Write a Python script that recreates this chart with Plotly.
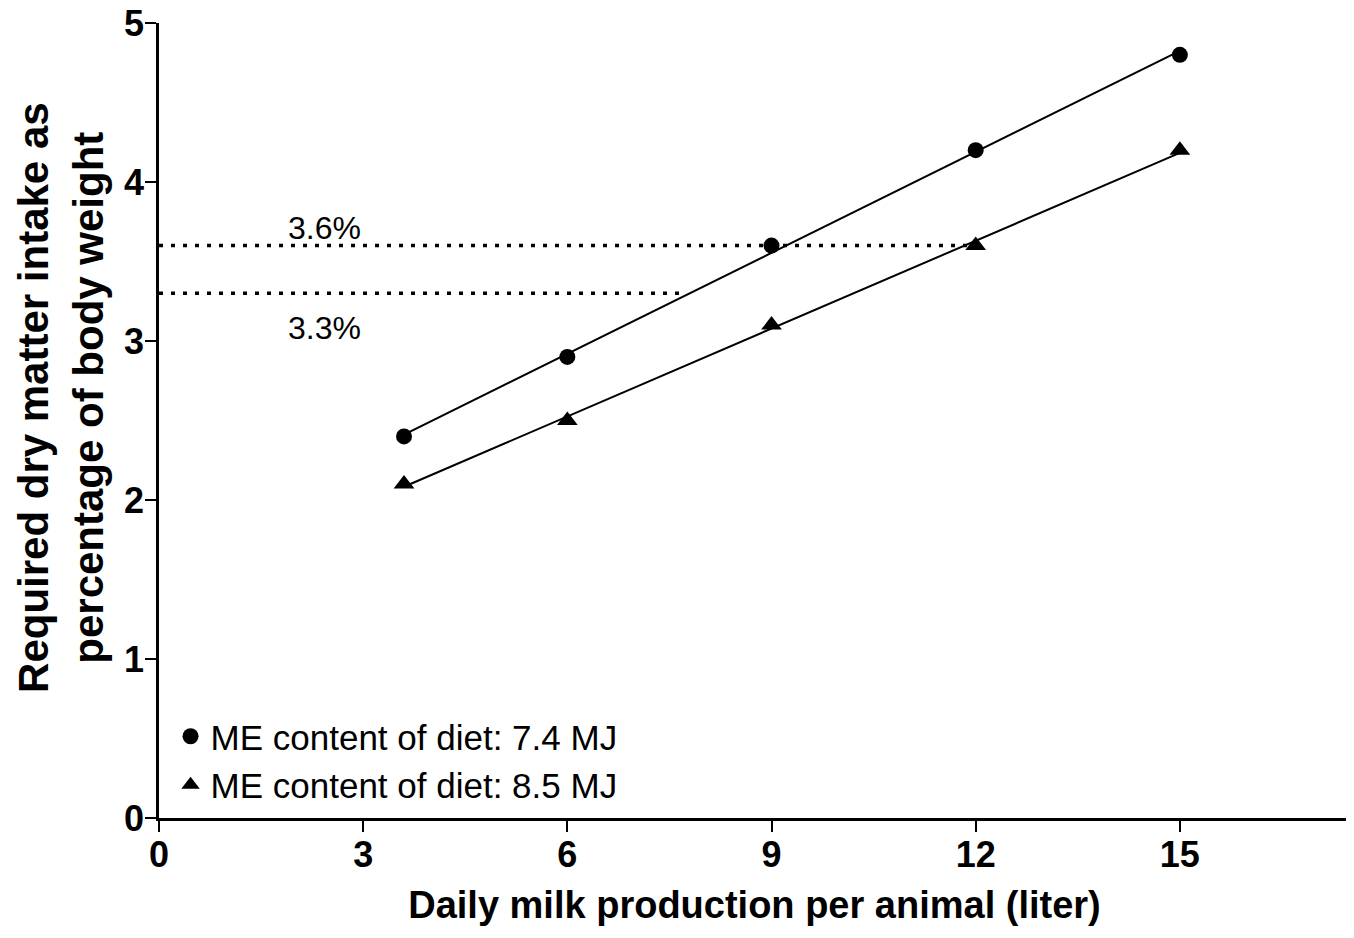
import numpy as np
import plotly.graph_objects as go

# ---- data ----
milk = [3.6, 6, 9, 12, 15]                      # daily milk production (liter)
dmi_74 = [2.4, 2.9, 3.6, 4.2, 4.8]              # ME 7.4 MJ
dmi_85 = [2.1, 2.5, 3.1, 3.6, 4.2]              # ME 8.5 MJ
series_names = ["ME content of diet: 7.4 MJ", "ME content of diet: 8.5 MJ"]
series_symbols = ["circle", "triangle-up"]

ref_levels = [3.6, 3.3]                          # dotted reference levels
ref_ends = [12.1, 7.7]                           # where the dotted lines stop (x)
ref_labels = ["3.6%", "3.3%"]
ref_label_x = [2.43, 2.43]
ref_label_y = [3.71, 3.08]

x_ticks = [0, 3, 6, 9, 12, 15]
y_ticks = [0, 1, 2, 3, 4, 5]
x_range = [0, 17.5]
y_range = [0, 5]

x_title = "Daily milk production per animal (liter)"
y_title = "Required dry matter intake as<br>percentage of body weight"

FONT = "Liberation Sans, Arial, sans-serif"

fig = go.Figure()

# dotted reference lines
for lvl, end in zip(ref_levels, ref_ends):
    fig.add_trace(go.Scatter(
        x=[0, end], y=[lvl, lvl], mode="lines",
        line=dict(color="black", width=3.5, dash="4px,8px"),
        showlegend=False, hoverinfo="skip"))

# regression lines
for ys in (dmi_74, dmi_85):
    slope, intercept = np.polyfit(milk, ys, 1)
    xs = [min(milk), max(milk)]
    fig.add_trace(go.Scatter(
        x=xs, y=[slope * v + intercept for v in xs], mode="lines",
        line=dict(color="black", width=2),
        showlegend=False, hoverinfo="skip"))

# data points
for ys, name, sym in zip((dmi_74, dmi_85), series_names, series_symbols):
    fig.add_trace(go.Scatter(
        x=milk, y=ys, mode="markers", name=name,
        marker=dict(symbol=sym, size=16 if sym == "circle" else 18, color="black"),
        cliponaxis=False))

for txt, lx, ly in zip(ref_labels, ref_label_x, ref_label_y):
    fig.add_annotation(x=lx, y=ly, text=txt, showarrow=False,
                       font=dict(family=FONT, size=32, color="black"),
                       xanchor="center", yanchor="middle")

# y-axis title (two lines, rotated)
fig.add_annotation(xref="paper", yref="paper", x=-0.0823, y=0.5296,
                   text=y_title, showarrow=False, textangle=-90,
                   xanchor="center", yanchor="middle",
                   font=dict(family=FONT, size=42, color="black", weight="bold"))

axis_common = dict(
    showline=True, linecolor="black", linewidth=2.5,
    ticks="outside", ticklen=11, tickwidth=2, tickcolor="black",
    showgrid=False, zeroline=False, ticklabeloverflow="allow", automargin=False,
    tickfont=dict(family=FONT, size=36, color="black", weight="bold"),
)

fig.update_layout(
    width=1354, height=938,
    margin=dict(l=151, r=12, t=15, b=128, autoexpand=False),
    paper_bgcolor="white", plot_bgcolor="white",
    font=dict(family=FONT, color="black"),
    xaxis=dict(range=x_range, tickvals=x_ticks, ticklabelstandoff=-8, **axis_common,
               title=dict(text=x_title, standoff=18,
                          font=dict(family=FONT, size=38, color="black", weight="bold"))),
    yaxis=dict(range=y_range, tickvals=y_ticks, ticklabelstandoff=-6, **axis_common),
    legend=dict(x=0.0097, xanchor="left", y=0.005, yanchor="bottom",
                bgcolor="rgba(0,0,0,0)", font=dict(family=FONT, size=35, color="black"),
                itemwidth=30, tracegroupgap=0),
)

fig.write_html("out.html")
